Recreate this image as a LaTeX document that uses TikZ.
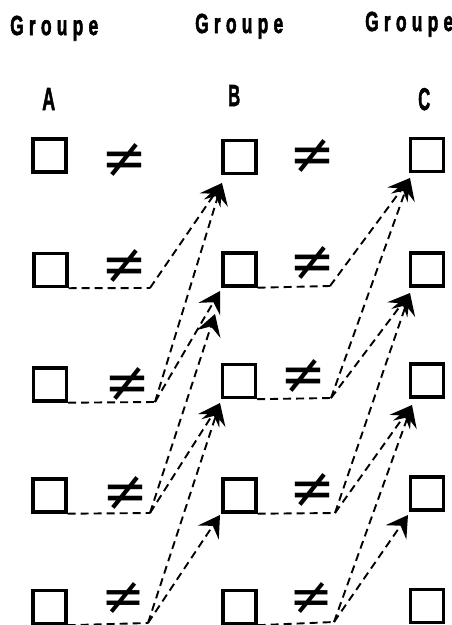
\documentclass[tikz,border=0pt]{standalone}
\usepackage{fontspec}
\usepackage{graphicx}
\newfontfamily\grp[LetterSpace=30,FakeBold=2.5]{Liberation Sans}
\newfontfamily\grpl[FakeBold=2]{Liberation Sans}
\newfontfamily\sym{DejaVu Sans}
\usetikzlibrary{arrows.meta}
\begin{document}
\begin{tikzpicture}[x=1pt,y=-1pt,
  sq/.style={draw,line width=3.4pt,minimum size=33pt,inner sep=0pt},
  ne/.style={inner sep=0pt},
  grouplbl/.style={inner sep=0pt,anchor=base west},
  letterlbl/.style={inner sep=0pt,anchor=base west},
  dl/.style={dash pattern=on 8pt off 5pt,line width=1.9pt},
  ar/.style={dl,-{Stealth[length=21pt,width=25pt,inset=8pt,sep=0pt]}}]
\useasboundingbox (0,0) rectangle (452,625);
% labels
\node[grouplbl] (g1) at (10,35) {\resizebox*{88pt}{25pt}{\grp\bfseries Groupe}};
\node[grouplbl] (g2) at (195,33) {\resizebox*{88pt}{25pt}{\grp\bfseries Groupe}};
\node[grouplbl] (g3) at (365,31) {\resizebox*{88pt}{25pt}{\grp\bfseries Groupe}};
\node[letterlbl] (la) at (42,110) {\resizebox{13pt}{22pt}{\grpl\bfseries A}};
\node[letterlbl] (lb) at (228,106) {\resizebox{12pt}{21pt}{\grpl\bfseries B}};
\node[letterlbl] (lc) at (418,110) {\resizebox{12pt}{22pt}{\grpl\bfseries C}};
% squares
\node[sq] (a1) at (49.5,155.5) {};
\node[sq] (b1) at (239.5,157) {};
\node[sq] (c1) at (427,155) {};
\node[sq] (a2) at (50.5,270) {};
\node[sq] (b2) at (239.5,269.5) {};
\node[sq] (c2) at (427,269.5) {};
\node[sq] (a3) at (50,384.5) {};
\node[sq] (b3) at (239,381) {};
\node[sq] (c3) at (427,380.5) {};
\node[sq] (a4) at (49.5,495.5) {};
\node[sq] (b4) at (239.5,495.5) {};
\node[sq] (c4) at (427,493.5) {};
\node[sq] (a5) at (49.5,607) {};
\node[sq] (b5) at (239.5,607) {};
\node[sq] (c5) at (427,606) {};
% not-equal signs
\newcommand\nesign{\resizebox*{46pt}{34pt}{\sym ≠}}
\node[ne] (n1ab) at (124,160) {\nesign};
\node[ne] (n1bc) at (312,156) {\nesign};
\node[ne] (n2ab) at (124,266) {\nesign};
\node[ne] (n2bc) at (312,263) {\nesign};
\node[ne] (n3ab) at (127,384) {\nesign};
\node[ne] (n3bc) at (303,376) {\nesign};
\node[ne] (n4ab) at (125,493) {\nesign};
\node[ne] (n4bc) at (312,490) {\nesign};
\node[ne] (n5ab) at (123,598) {\resizebox*{44pt}{32pt}{\sym ≠}};
\node[ne] (n5bc) at (311,598) {\resizebox*{44pt}{32pt}{\sym ≠}};
% elbows
\coordinate (ea2) at (150,288);
\coordinate (ea3) at (155,402);
\coordinate (ea4) at (150,513);
\coordinate (ea5) at (148,623);
\coordinate (eb2) at (330,286);
\coordinate (eb3) at (331,398);
\coordinate (eb4) at (335,513);
\coordinate (eb5) at (334,622);
% tips
\coordinate (tb1) at (222,183);
\coordinate (tb2u) at (220,291);
\coordinate (tb2l) at (215,314);
\coordinate (tb3) at (220,403);
\coordinate (tb4) at (220,515);
\coordinate (tc1) at (410,178);
\coordinate (tc2) at (410,293);
\coordinate (tc3) at (412,405);
\coordinate (tc4) at (408,515);
% horizontal dashed lines
\draw[dl] (a2.south east) -- (ea2);
\draw[dl] (a3.south east) -- (ea3);
\draw[dl] (a4.south east) -- (ea4);
\draw[dl] (a5.south east) -- (ea5);
\draw[dl] (b2.south east) -- (eb2);
\draw[dl] (b3.south east) -- (eb3);
\draw[dl] (b4.south east) -- (eb4);
\draw[dl] (b5.south east) -- (eb5);
% diagonal arrows A -> B
\draw[ar] (ea2) -- (tb1);
\draw[ar] (ea3) -- (tb1);
\draw[ar] (ea3) -- (tb2u);
\draw[ar] (ea4) -- (tb2l);
\draw[ar] (ea4) -- (tb3);
\draw[ar] (ea5) -- (tb3);
\draw[ar] (ea5) -- (tb4);
% diagonal arrows B -> C
\draw[ar] (eb2) -- (tc1);
\draw[ar] (eb3) -- (tc1);
\draw[ar] (eb3) -- (tc2);
\draw[ar] (eb4) -- (tc2);
\draw[ar] (eb4) -- (tc3);
\draw[ar] (eb5) -- (tc3);
\draw[ar] (eb5) -- (tc4);
\end{tikzpicture}
\end{document}
